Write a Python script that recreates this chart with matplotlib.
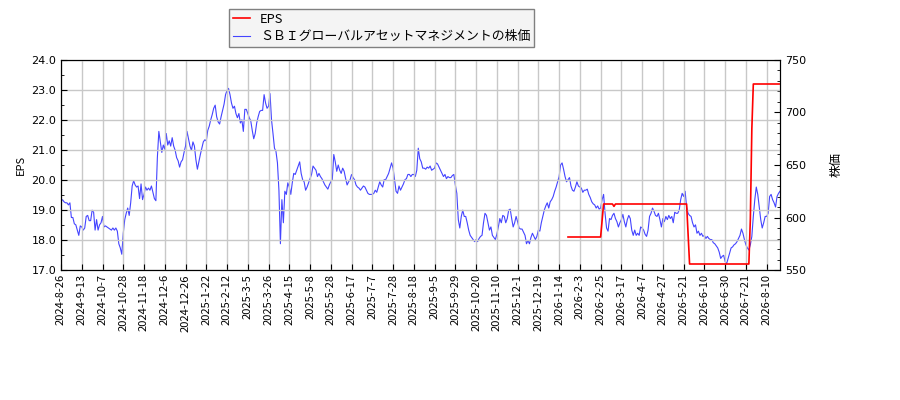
import numpy as np
import matplotlib
matplotlib.use('Agg')
import matplotlib.pyplot as plt
from matplotlib.ticker import MultipleLocator
from matplotlib.font_manager import FontProperties

tick_labels = ["2024-8-26", "2024-9-13", "2024-10-7", "2024-10-28", "2024-11-18",
               "2024-12-6", "2024-12-26", "2025-1-22", "2025-2-12", "2025-3-5",
               "2025-3-26", "2025-4-15", "2025-5-8", "2025-5-28", "2025-6-17",
               "2025-7-7", "2025-7-28", "2025-8-18", "2025-9-5", "2025-9-29",
               "2025-10-20", "2025-11-10", "2025-12-1", "2025-12-19", "2026-1-14",
               "2026-2-3", "2026-2-25", "2026-3-17", "2026-4-7", "2026-4-27",
               "2026-5-21", "2026-6-10", "2026-6-30", "2026-7-21", "2026-8-10"]
tick_step = 14  # trading days between labelled dates

price = [
    615, 617, 615, 614, 614, 612, 614, 600, 600, 594,
    593, 588, 583, 592, 591, 588, 590, 601, 602, 597,
    597, 607, 605, 588, 598, 588, 593, 595, 601, 591,
    592, 591, 590, 589, 588, 590, 588, 590, 587, 575,
    571, 565, 585, 598, 604, 609, 602, 614, 630, 635,
    631, 629, 630, 618, 632, 617, 622, 629, 626, 628,
    626, 630, 624, 618, 616, 657, 682, 672, 662, 669,
    665, 680, 669, 673, 668, 676, 668, 664, 657, 654,
    648, 653, 655, 662, 668, 682, 675, 668, 664, 672,
    668, 655, 646, 653, 660, 666, 672, 674, 673, 683,
    687, 693, 698, 704, 707, 696, 691, 689, 696, 702,
    708, 717, 721, 723, 717, 709, 704, 706, 699, 695,
    699, 690, 693, 682, 703, 703, 699, 695, 692, 683,
    675, 680, 690, 696, 701, 702, 702, 717, 709, 704,
    706, 718, 693, 680, 666, 663, 652, 626, 575, 617,
    595, 625, 622, 633, 629, 622, 633, 642, 641, 645,
    649, 653, 642, 636, 634, 626, 629, 633, 637, 641,
    649, 647, 645, 639, 642, 639, 637, 634, 631, 629,
    627, 631, 634, 636, 660, 653, 644, 650, 645, 642,
    647, 644, 637, 631, 634, 636, 641, 638, 636, 631,
    629, 628, 626, 628, 630, 629, 626, 623, 622, 622,
    622, 623, 626, 624, 629, 634, 631, 629, 636, 636,
    639, 642, 647, 652, 647, 636, 625, 623, 630, 626,
    629, 632, 636, 637, 641, 641, 639, 641, 641, 639,
    645, 666, 656, 653, 647, 647, 646, 648, 647, 649,
    645, 646, 647, 652, 651, 648, 645, 642, 639, 641,
    637, 639, 638, 638, 640, 641, 631, 623, 598, 590,
    601, 607, 601, 601, 595, 588, 583, 581, 579, 577,
    579, 577, 580, 582, 583, 595, 604, 602, 595, 588,
    591, 583, 581, 579, 584, 591, 599, 595, 602, 601,
    595, 599, 607, 608, 599, 591, 595, 601, 596, 590,
    589, 589, 586, 583, 575, 578, 575, 581, 585, 582,
    579, 582, 588, 587, 595, 601, 607, 611, 614, 609,
    615, 617, 620, 625, 629, 634, 639, 650, 652, 646,
    639, 634, 636, 638, 630, 626, 625, 629, 634, 630,
    629, 628, 624, 626, 626, 627, 622, 619, 615, 613,
    612, 609, 611, 608, 609, 617, 622, 604, 590, 587,
    599, 598, 602, 604, 599, 596, 591, 595, 598, 603,
    596, 591, 598, 602, 599, 588, 583, 588, 583, 585,
    583, 591, 590, 588, 584, 582, 588, 601, 604, 609,
    606, 602, 601, 604, 598, 591, 599, 596, 601, 598,
    602, 599, 601, 595, 605, 604, 604, 607, 617, 623,
    620, 625, 610, 604, 602, 601, 595, 591, 593, 585,
    587, 583, 585, 582, 583, 580, 582, 580, 579, 579,
    576, 575, 573, 571, 567, 561, 563, 564, 558, 556,
    561, 566, 571, 572, 574, 575, 577, 580, 583, 589,
    585, 579, 574, 571, 569, 574, 582, 601, 617, 629,
    622, 610, 598, 590, 595, 601, 601, 604, 620, 622,
    617, 614, 610, 620, 623, 625,
]

eps_days = [342, 364, 365, 366, 372, 373, 374, 422, 423, 424, 464, 465, 466, 467, 485]
eps_values = [18.1, 18.1, 18.65, 19.2, 19.2, 19.12, 19.2, 19.2, 18.2, 17.2,
              17.2, 18.7, 21.7, 23.2, 23.2]

series_eps = "EPS"
series_price = "ＳＢＩグローバルアセットマネジメントの株価"

cjk = ['Noto Sans CJK JP', 'DejaVu Sans']

fig = plt.figure(figsize=(9, 4), dpi=100)
ax1 = fig.add_axes([61/900, 130/400, 719/900, 210/400])
ax2 = ax1.twinx()

days = np.arange(len(price))
l1, = ax1.plot(eps_days, eps_values, color='#ff0000', lw=1.2, label=series_eps, zorder=3)
l2, = ax2.plot(days, price, color='#4444ff', lw=0.8, label=series_price, zorder=2)

ax1.set_xlim(0, len(price) - 1)
ax1.set_ylim(17, 24)
ax2.set_ylim(550, 750)

ticks = np.arange(len(tick_labels)) * tick_step
ax1.set_xticks(ticks)
ax1.set_xticklabels(tick_labels, rotation=90, fontsize=8, family=cjk)

ax1.yaxis.set_major_locator(MultipleLocator(1.0))
ax1.yaxis.set_minor_locator(MultipleLocator(0.5))
ax1.yaxis.set_major_formatter(matplotlib.ticker.FormatStrFormatter('%.1f'))
ax2.yaxis.set_major_locator(MultipleLocator(50))
ax2.yaxis.set_minor_locator(MultipleLocator(10))

for a in (ax1, ax2):
    a.tick_params(axis='both', which='both', direction='in', labelsize=8)
    a.tick_params(which='major', length=4)
    a.tick_params(which='minor', length=2.5)
ax1.tick_params(axis='x', labelsize=8, pad=3)

ax1.grid(True, which='major', color='#c8c8c8', lw=1.0)
ax1.set_axisbelow(True)

ax1.set_ylabel("EPS", fontsize=8, family=cjk, labelpad=4)
ax2.set_ylabel("株価", fontsize=9, family=cjk, labelpad=17)

ax2.set_zorder(ax1.get_zorder() - 1)
ax1.patch.set_visible(False)

leg = fig.legend(handles=[l1, l2], loc='upper left', bbox_to_anchor=(229/900, 1 - 9/400),
                 prop=FontProperties(family=cjk, size=9.3), frameon=True, fancybox=False,
                 edgecolor='#808080', facecolor='#f4f4f4', framealpha=1,
                 handlelength=1.3, borderpad=0.3, labelspacing=0.35, handletextpad=0.8,
                 borderaxespad=0)
leg.get_frame().set_linewidth(1.0)

fig.savefig('out.png', dpi=100)
